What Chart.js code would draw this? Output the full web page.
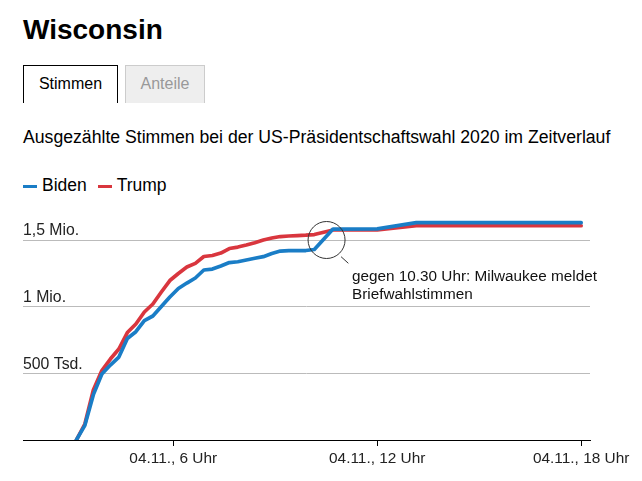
<!DOCTYPE html>
<html>
<head>
    <title>Wisconsin</title>
    <meta charset="UTF-8">
    <script src="https://cdn.jsdelivr.net/npm/chart.js"></script>
    <style>
        body { margin: 0; width: 642px; height: 481px; position: relative; overflow: hidden;
               font-family: "Liberation Sans", Arial, sans-serif; color: #111; background: #fff; }
        .title { position: absolute; left: 23px; top: 16px; font-size: 28px; line-height: 28px; font-weight: bold; color: #000; }
        .tab { position: absolute; top: 65px; height: 38px; box-sizing: border-box; font-size: 16px;
               line-height: 36px; text-align: center; border-bottom: none; }
        .tab.active { left: 23px; width: 95px; border: 1px solid #000; border-bottom: none; background: #fff; color: #000; }
        .tab.off { left: 125px; width: 80px; border: 1px solid #ccc; border-bottom: none; background: #eeeeee; color: #999; }
        .subtitle { position: absolute; left: 23px; top: 127px; font-size: 17.65px; line-height: 20px; color: #000; white-space: nowrap; }
        .legend { position: absolute; left: 23px; top: 175px; font-size: 17.5px; line-height: 20px; color: #000; white-space: nowrap; }
        .legend span.dash { display: inline-block; width: 14px; height: 3px; vertical-align: middle; margin-right: 5px; }
        .legend span.item { margin-right: 6px; }
        #chartBox { position: absolute; left: 0; top: 200px; width: 642px; height: 281px; }
    </style>
</head>
<body>
    <div class="title">Wisconsin</div>
    <div class="tab active">Stimmen</div>
    <div class="tab off">Anteile</div>
    <div class="subtitle">Ausgezählte Stimmen bei der US-Präsidentschaftswahl 2020 im Zeitverlauf</div>
    <div class="legend">
        <span class="dash" style="background:#1a7dc6"></span><span class="item">Biden</span>
        <span class="dash" style="background:#d9363e"></span><span class="item">Trump</span>
    </div>
    <div id="chartBox"><canvas id="votesChart"></canvas></div>

    <script>
        // time of day on 04.11.2020, in hours
        const hours = [3.15, 3.4, 3.65, 3.9, 4.15, 4.4, 4.65, 4.9, 5.15, 5.4, 5.65, 5.9, 6.15, 6.4, 6.65, 6.9,
                       7.15, 7.4, 7.65, 7.9, 8.15, 8.4, 8.65, 8.9, 9.15, 9.4, 9.65, 9.9, 10.15, 10.7, 12.0, 13.15, 18.0];
        // counted votes
        const biden = [0, 110000, 340000, 495000, 562000, 622000, 761000, 812000, 896000, 930000, 1001000, 1072000,
                       1136000, 1177000, 1215000, 1275000, 1282000, 1305000, 1331000, 1337000, 1350000, 1363000,
                       1375000, 1399000, 1417000, 1421000, 1421000, 1421000, 1429000, 1582000, 1583000, 1630000, 1630000];
        const trump = [0, 120000, 375000, 521000, 607000, 682000, 806000, 870000, 960000, 1020000, 1110000, 1196000,
                       1249000, 1297000, 1325000, 1376000, 1384000, 1402000, 1436000, 1447000, 1462000, 1480000,
                       1500000, 1515000, 1526000, 1530000, 1533000, 1536000, 1541000, 1575000, 1575000, 1607000, 1607000];

        const xTickValues = [6, 12, 18];
        const xTickLabels = ['04.11., 6 Uhr', '04.11., 12 Uhr', '04.11., 18 Uhr'];
        const yTickValues = [0, 500000, 1000000, 1500000];
        const yTickLabels = ['', '500 Tsd.', '1 Mio.', '1,5 Mio.'];

        const note = { hour: 10.51, votes: 1500000, lines: ['gegen 10.30 Uhr: Milwaukee meldet', 'Briefwahlstimmen'] };

        const toPoints = vals => vals.map((v, i) => ({ x: hours[i], y: v }));

        // circle + note for the Milwaukee jump
        const notePlugin = {
            id: 'note',
            afterDatasetsDraw(chart) {
                const ctx = chart.ctx;
                const cx = chart.scales.x.getPixelForValue(note.hour);
                const cy = chart.scales.y.getPixelForValue(note.votes);
                ctx.save();
                ctx.strokeStyle = '#333';
                ctx.lineWidth = 1;
                ctx.beginPath();
                ctx.arc(cx, cy, 18.5, 0, Math.PI * 2);
                ctx.stroke();
                ctx.beginPath();
                ctx.moveTo(cx + 14.5, cy + 16.7);
                ctx.lineTo(cx + 21.8, cy + 23.3);
                ctx.stroke();
                ctx.fillStyle = '#111';
                ctx.font = '15.3px "Liberation Sans", Arial, sans-serif';
                ctx.textBaseline = 'middle';
                ctx.fillText(note.lines[0], cx + 25.5, cy + 37);
                ctx.fillText(note.lines[1], cx + 25.5, cy + 55);
                ctx.restore();
            }
        };

        new Chart(document.getElementById('votesChart'), {
            type: 'line',
            data: {
                datasets: [{
                    label: 'Biden',
                    data: toPoints(biden),
                    borderColor: '#1a7dc6',
                    borderWidth: 3.7,
                    pointRadius: 0,
                    tension: 0
                }, {
                    label: 'Trump',
                    data: toPoints(trump),
                    borderColor: '#d9363e',
                    borderWidth: 3.7,
                    pointRadius: 0,
                    tension: 0
                }]
            },
            options: {
                animation: false,
                responsive: true,
                maintainAspectRatio: false,
                layout: { padding: { left: 23, right: 52, top: 20, bottom: 0 } },
                plugins: { legend: { display: false }, tooltip: { enabled: false } },
                elements: { line: { borderJoinStyle: 'round', borderCapStyle: 'round' } },
                scales: {
                    x: {
                        type: 'linear',
                        min: 1.58,
                        max: 18.26,
                        afterBuildTicks: s => { s.ticks = xTickValues.map(v => ({ value: v })); },
                        afterFit: s => { s.height = 41; },
                        grid: { drawOnChartArea: false, drawTicks: true, tickLength: 6, color: '#000' },
                        border: { display: true, color: '#000', width: 1 },
                        ticks: {
                            padding: 4,
                            maxRotation: 0,
                            color: '#222',
                            font: { family: '"Liberation Sans", Arial, sans-serif', size: 15.4 },
                            callback: (v) => xTickLabels[xTickValues.indexOf(v)]
                        }
                    },
                    y: {
                        min: 0,
                        max: 1650000,
                        afterBuildTicks: s => { s.ticks = yTickValues.map(v => ({ value: v })); },
                        afterFit: s => { s.width = 0; },
                        grid: {
                            drawTicks: false,
                            color: c => (c.tick && c.tick.value === 0) ? '#000' : '#bbb'
                        },
                        border: { display: false },
                        ticks: {
                            mirror: true,
                            padding: 0,
                            labelOffset: -9,
                            color: '#222',
                            font: { family: '"Liberation Sans", Arial, sans-serif', size: 15.8 },
                            callback: (v) => yTickLabels[yTickValues.indexOf(v)]
                        }
                    }
                }
            },
            plugins: [notePlugin]
        });
    </script>
</body>
</html>
